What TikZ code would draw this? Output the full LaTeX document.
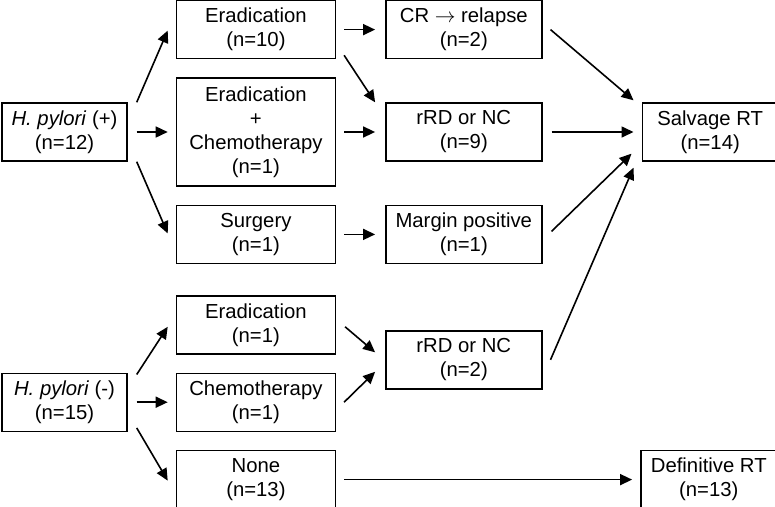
\documentclass[tikz,border=0pt]{standalone}
\usepackage{fontspec}
\setmainfont{Liberation Sans}
\usetikzlibrary{arrows.meta, positioning}

\begin{document}
\begin{tikzpicture}[
    node distance=18pt and 48pt,
    box/.style={rectangle, draw, line width=1.4pt, minimum height=58pt, inner sep=2pt, font=\fontsize{20.3}{24}\selectfont, align=center},
    group/.style={box, minimum width=125pt},
    treat/.style={box, minimum width=159pt},
    resp/.style={box, minimum width=156pt},
    outcome/.style={box, minimum width=136pt},
    arrow/.style={-{Triangle[length=12pt, width=11pt]}, line width=1.6pt}
]
    \useasboundingbox (0,0) rectangle (775pt,-506pt);

    % H. pylori (+) branch
    \node[group] (hpp) at (64.5pt,-132pt) {\textit{H. pylori} (+)\\(n=12)};
    \node[treat, minimum height=108pt, right=48pt of hpp] (eradchemo) {Eradication\\+\\Chemotherapy\\(n=1)};
    \node[treat, above=18pt of eradchemo] (erad10) {Eradication\\(n=10)};
    \node[treat, below=18pt of eradchemo] (surgery) {Surgery\\(n=1)};
    \node[resp, right=49pt of erad10] (cr) {CR $\rightarrow$ relapse\\(n=2)};
    \node[resp, right=49pt of eradchemo] (rrd9) {rRD or NC\\(n=9)};
    \node[resp, right=49pt of surgery] (margin) {Margin positive\\(n=1)};
    \node[outcome, right=99pt of rrd9] (salvage) {Salvage RT\\(n=14)};

    % H. pylori (-) branch
    \node[treat, below=31pt of surgery] (erad1) {Eradication\\(n=1)};
    \node[treat, below=18pt of erad1] (chemo1) {Chemotherapy\\(n=1)};
    \node[treat, below=18pt of chemo1] (none) {None\\(n=13)};
    \node[group, left=48pt of chemo1] (hpm) {\textit{H. pylori} (-)\\(n=15)};
    \node[resp, right=49pt of erad1, yshift=-35pt] (rrd2) {rRD or NC\\(n=2)};
    \node[outcome, right=304pt of none] (definitive) {Definitive RT\\(n=13)};

    % Arrows - H. pylori (+) to treatments
    \draw[arrow] ([xshift=9pt]hpp.north east) -- ([xshift=-8pt,yshift=-1pt]erad10.west);
    \draw[arrow] ([xshift=9pt]hpp.east) -- ([xshift=-8pt]eradchemo.west);
    \draw[arrow] ([xshift=9pt]hpp.south east) -- ([xshift=-8pt,yshift=1pt]surgery.west);

    % Arrows - treatments to responses
    \draw[arrow] ([xshift=8pt]erad10.east) -- ([xshift=-10pt]cr.west);
    \draw[arrow] ([xshift=8pt,yshift=4pt]erad10.south east) -- ([xshift=-10pt]rrd9.north west);
    \draw[arrow] ([xshift=8pt]eradchemo.east) -- ([xshift=-10pt]rrd9.west);
    \draw[arrow] ([xshift=8pt]surgery.east) -- ([xshift=-10pt]margin.west);

    % Arrows - responses to salvage RT
    \draw[arrow] ([xshift=8pt]cr.east) -- ([xshift=-8pt,yshift=2pt]salvage.north west);
    \draw[arrow] ([xshift=9pt]rrd9.east) -- ([xshift=-8pt]salvage.west);
    \draw[arrow] ([xshift=9pt,yshift=3pt]margin.east) -- ([xshift=-10pt,yshift=8pt]salvage.south west);
    \draw[arrow] ([xshift=8pt]rrd2.east) -- ([xshift=-8pt,yshift=-6pt]salvage.south west);

    % Arrows - H. pylori (-) branch
    \draw[arrow] ([xshift=9pt,yshift=-2pt]hpm.north east) -- ([xshift=-8pt,yshift=-2pt]erad1.west);
    \draw[arrow] ([xshift=9pt]hpm.east) -- ([xshift=-8pt]chemo1.west);
    \draw[arrow] ([xshift=9pt,yshift=4pt]hpm.south east) -- ([xshift=-8pt,yshift=-1pt]none.west);
    \draw[arrow] ([xshift=9pt,yshift=-2pt]erad1.east) -- ([xshift=-10pt,yshift=7.5pt]rrd2.west);
    \draw[arrow] ([xshift=8pt]chemo1.east) -- ([xshift=-10pt,yshift=-12pt]rrd2.west);
    \draw[arrow] ([xshift=8pt]none.east) -- ([xshift=-8pt]definitive.west);
\end{tikzpicture}
\end{document}
